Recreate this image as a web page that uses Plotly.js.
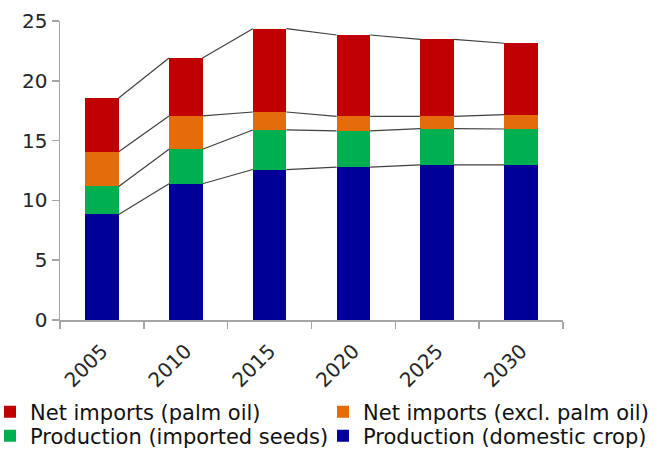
<!DOCTYPE html>
<html><head><meta charset="utf-8">
<script src="https://cdn.plot.ly/plotly-3.0.1.min.js"></script>
<style>html,body{margin:0;padding:0;background:#fff}#chart{width:659px;height:452px}</style>
</head><body><div id="chart"></div>
<script>
const years = ['2005', '2010', '2015', '2020', '2025', '2030'];
const domesticCrop = [8.83, 11.39, 12.58, 12.78, 12.97, 12.97];
const importedSeeds = [2.34, 2.89, 3.31, 3.03, 3.03, 3.0];
const netImportsExclPalm = [2.89, 2.78, 1.5, 1.22, 1.03, 1.2];
const netImportsPalm = [4.5, 4.84, 6.97, 6.8, 6.44, 5.97];
const seriesNames = ['Production (domestic crop)', 'Production (imported seeds)', 'Net imports (excl. palm oil)', 'Net imports (palm oil)'];
const seriesColors = ['#000099', '#00B050', '#E46C0A', '#C00000'];

const FONT = 'DejaVu Sans, Verdana, sans-serif';
const layers = [domesticCrop, importedSeeds, netImportsExclPalm, netImportsPalm];
const barWidth = 0.4;
const legendIds = ['legend4', 'legend3', 'legend2', 'legend'];
const traces = [];
layers.forEach((vals, k) => {
  traces.push({
    type: 'bar', x: years, y: vals, name: seriesNames[k], width: barWidth,
    marker: {color: seriesColors[k], line: {width: 0}}, legend: legendIds[k], hoverinfo: 'skip'
  });
});
let cum = years.map(() => 0);
layers.forEach(vals => {
  cum = cum.map((c, i) => c + vals[i]);
  const xs = [], ys = [];
  for (let i = 0; i < years.length - 1; i++) {
    xs.push(i + barWidth / 2, i + 1 - barWidth / 2, null);
    ys.push(cum[i], cum[i + 1], null);
  }
  traces.push({type: 'scatter', mode: 'lines', x: xs, y: ys, xaxis: 'x2', showlegend: false,
    line: {color: '#404040', width: 1.2}, hoverinfo: 'skip'});
});

const AX = '#A6A6A6';
const legBase = {xanchor: 'left', yanchor: 'middle', bgcolor: 'rgba(0,0,0,0)', borderwidth: 0,
  font: {family: FONT, size: 21, color: '#111'}};
const pw = 503, ph = 299;
const col1 = (-10 - 60) / pw, col2 = (323 - 60) / pw;
const row1 = (320 - 412) / ph, row2 = (320 - 436) / ph;
const layout = {
  width: 659, height: 452,
  barmode: 'stack',
  margin: {l: 60, r: 96, t: 21, b: 132, autoexpand: false},
  paper_bgcolor: '#fff', plot_bgcolor: '#fff',
  font: {family: FONT, color: '#262626'},
  xaxis: {type: 'category', range: [-0.5, 5.5], tickson: 'boundaries', ticks: 'outside', ticklen: 7,
    tickcolor: AX, tickwidth: 1.5, showline: true, linecolor: AX, linewidth: 1.5, tickangle: -45,
    ticklabelstandoff: 10, automargin: false,
    tickfont: {family: FONT, size: 20, color: '#262626'}, showgrid: false},
  xaxis2: {overlaying: 'x', range: [-0.5, 5.5], visible: false},
  yaxis: {range: [0, 25], dtick: 5, ticks: 'outside', ticklen: 7, tickcolor: AX, tickwidth: 1.5,
    showline: true, linecolor: AX, linewidth: 1.5, showgrid: false, zeroline: false, automargin: false,
    tickfont: {family: FONT, size: 20, color: '#262626'}},
  legend: Object.assign({x: col1, y: row1}, legBase),
  legend2: Object.assign({x: col2, y: row1}, legBase),
  legend3: Object.assign({x: col1, y: row2}, legBase),
  legend4: Object.assign({x: col2, y: row2}, legBase),
  showlegend: true
};
Plotly.newPlot('chart', traces, layout, {displayModeBar: false, staticPlot: true});
</script>
</body></html>
